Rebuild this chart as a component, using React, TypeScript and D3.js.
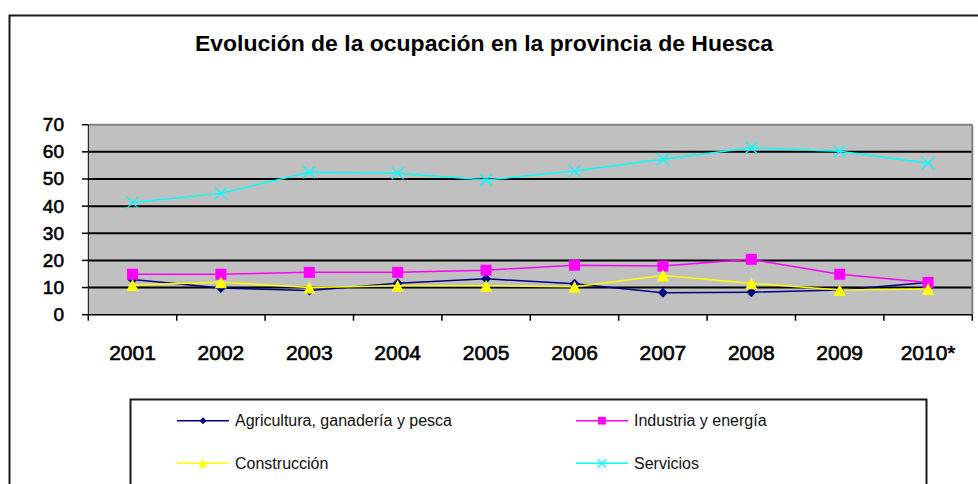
import React from "react";
import * as d3 from "d3";

const years = ["2001", "2002", "2003", "2004", "2005", "2006", "2007", "2008", "2009", "2010*"];
const agricultura = [13, 9.8, 8.9, 11.6, 13.2, 11.4, 8.1, 8.3, 9.1, 11.9];
const industria = [14.9, 14.9, 15.6, 15.6, 16.4, 18.2, 17.9, 20.4, 14.9, 11.9];
const construccion = [10.9, 12, 10, 10.7, 10.7, 10.3, 14.4, 11.6, 9.1, 9.5];
const servicios = [41.3, 44.7, 52.5, 52.1, 49.6, 52.9, 57.3, 61.5, 60.2, 55.8];
const yTicks = [0, 10, 20, 30, 40, 50, 60, 70];
const title = "Evolución de la ocupación en la provincia de Huesca";

const seriesNames = ["Agricultura, ganadería  y pesca", "Industria y energía", "Construcción", "Servicios"];

type Marker = "diamond" | "square" | "triangle" | "x";
const series: { name: string; values: number[]; color: string; marker: Marker }[] = [
  { name: seriesNames[0], values: agricultura, color: "#000080", marker: "diamond" },
  { name: seriesNames[1], values: industria, color: "#FF00FF", marker: "square" },
  { name: seriesNames[2], values: construccion, color: "#FFFF00", marker: "triangle" },
  { name: seriesNames[3], values: servicios, color: "#00FFFF", marker: "x" },
];

const W = 978;
const H = 484;
const plot = { left: 88.3, right: 972.3, top: 124.7, bottom: 314.7 };

function MarkerShape({ type, x, y, color, size = 1 }: { type: Marker; x: number; y: number; color: string; size?: number }) {
  if (type === "square") {
    const s = 11 * size;
    return <rect x={x - s / 2} y={y - s / 2} width={s} height={s} fill={color} />;
  }
  if (type === "diamond") {
    const s = 5 * size;
    return <path d={`M${x},${y - s}L${x + s},${y}L${x},${y + s}L${x - s},${y}Z`} fill={color} />;
  }
  if (type === "triangle") {
    const s = 6 * size;
    return <path d={`M${x},${y - s}L${x + s},${y + s}L${x - s},${y + s}Z`} fill={color} />;
  }
  const s = 6 * size;
  return (
    <g stroke={color} strokeWidth={1.3}>
      <line x1={x - s} y1={y - s} x2={x + s} y2={y + s} />
      <line x1={x - s} y1={y + s} x2={x + s} y2={y - s} />
    </g>
  );
}

export default function App() {
  const x = d3.scaleBand<string>().domain(years).range([plot.left, plot.right]);
  const y = d3.scaleLinear().domain([0, 70]).range([plot.bottom, plot.top]);
  const line = (vals: number[]) =>
    d3
      .line<number>()
      .x((_, i) => (x(years[i]) as number) + x.bandwidth() / 2)
      .y((v) => y(v))(vals) as string;

  const font = "'Liberation Sans', Arial, sans-serif";
  const boundaries = d3.range(years.length + 1).map((i) => plot.left + i * x.bandwidth());

  const legendPos = [
    { lx: 177, ty: 420.7 },
    { lx: 576, ty: 420.7 },
    { lx: 177, ty: 463.3 },
    { lx: 576, ty: 463.3 },
  ];

  return (
    <svg width={W} height={H} style={{ position: "absolute", left: 0, top: 0, background: "#fff" }} fontFamily={font}>
      <rect x={0} y={0} width={W} height={H} fill="#ffffff" />
      <path d={`M9.5,${H}V15.5H${W}`} fill="none" stroke="#1a1a1a" strokeWidth={2} />
      <text
        x={484}
        y={51}
        textAnchor="middle"
        fontSize={22}
        fontWeight="bold"
        fontFamily="'Liberation Sans Narrow', 'Liberation Sans', Arial, sans-serif"
        textLength={578}
        lengthAdjust="spacingAndGlyphs"
      >
        {title}
      </text>

      {/* plot area */}
      <rect x={plot.left} y={plot.top} width={plot.right - plot.left} height={plot.bottom - plot.top} fill="#C0C0C0" />
      {yTicks.filter((t) => t > 0 && t < 70).map((t) => (
        <line key={t} x1={plot.left} x2={plot.right} y1={y(t)} y2={y(t)} stroke="#000" strokeWidth={2} />
      ))}
      <line x1={plot.left} x2={plot.right} y1={plot.top} y2={plot.top} stroke="#808080" strokeWidth={2} />
      <line x1={plot.right} x2={plot.right} y1={plot.top} y2={plot.bottom} stroke="#808080" strokeWidth={2} />
      <line x1={plot.left} x2={plot.left} y1={plot.top} y2={plot.bottom} stroke="#000" strokeWidth={1} />
      <line x1={plot.left} x2={plot.right} y1={plot.bottom} y2={plot.bottom} stroke="#000" strokeWidth={1.5} />

      {/* y axis */}
      {yTicks.map((t) => (
        <g key={t}>
          <line x1={82} x2={plot.left} y1={y(t)} y2={y(t)} stroke="#000" strokeWidth={1.5} />
          <text x={64} y={y(t) + 6.5} textAnchor="end" fontSize={19} stroke="#000" strokeWidth={0.6}>
            {t}
          </text>
        </g>
      ))}

      {/* x axis */}
      {boundaries.map((bx, i) => (
        <line key={i} x1={bx} x2={bx} y1={plot.bottom} y2={plot.bottom + 6} stroke="#000" strokeWidth={1.5} />
      ))}
      {years.map((yr) => (
        <text
          key={yr}
          x={(x(yr) as number) + x.bandwidth() / 2}
          y={360}
          textAnchor="middle"
          fontSize={21}
          stroke="#000"
          strokeWidth={0.6}
        >
          {yr}
        </text>
      ))}

      {/* series */}
      {series.map((s) => (
        <g key={s.name}>
          <path d={line(s.values)} fill="none" stroke={s.color} strokeWidth={1.5} />
          {s.values.map((v, i) => (
            <MarkerShape key={i} type={s.marker} x={(x(years[i]) as number) + x.bandwidth() / 2} y={y(v)} color={s.color} />
          ))}
        </g>
      ))}

      {/* legend */}
      <path d={`M130.5,${H}V399.5H926.5V${H}`} fill="#fff" stroke="#1a1a1a" strokeWidth={2} />
      {series.map((s, i) => {
        const p = legendPos[i];
        return (
          <g key={s.name}>
            <line x1={p.lx} x2={p.lx + 52} y1={p.ty} y2={p.ty} stroke={s.color} strokeWidth={1.5} />
            <MarkerShape type={s.marker} x={p.lx + 26} y={p.ty} color={s.color} size={0.7} />
            <text x={p.lx + 58} y={p.ty + 5.5} fontSize={16} fill="#111">
              {s.name}
            </text>
          </g>
        );
      })}
    </svg>
  );
}
